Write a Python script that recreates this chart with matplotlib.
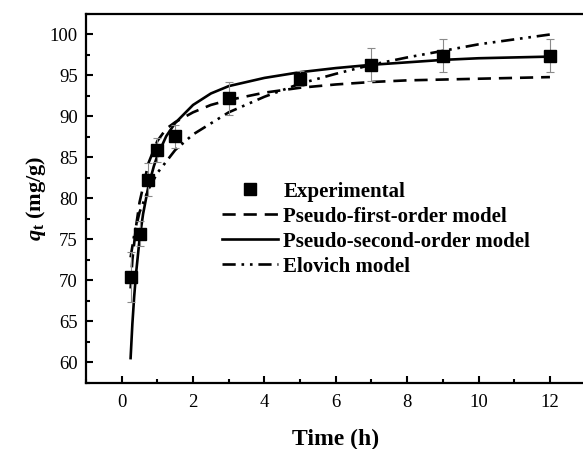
import matplotlib
matplotlib.use("Agg")
import matplotlib.pyplot as plt
from matplotlib.lines import Line2D
from matplotlib.ticker import MultipleLocator

plt.rcParams['font.family'] = ['Liberation Serif', 'DejaVu Serif']
plt.rcParams['mathtext.fontset'] = 'custom'
plt.rcParams['mathtext.rm'] = 'Liberation Serif'
plt.rcParams['mathtext.it'] = 'Liberation Serif:italic'
plt.rcParams['mathtext.bf'] = 'Liberation Serif:bold'
plt.rcParams['mathtext.bfit'] = 'Liberation Serif:italic:bold'

# Experimental data
t_exp = [0.25, 0.5, 0.75, 1.0, 1.5, 3, 5, 7, 9, 12]
q_exp = [70.4, 75.7, 82.3, 85.9, 87.6, 92.2, 94.6, 96.3, 97.4, 97.4]
q_err = [3.0, 1.5, 2.0, 1.5, 1.4, 2.0, 0.9, 2.0, 2.0, 2.0]

# Pseudo-first-order model (dashed)
t_pfo = [0.25, 0.3, 0.4, 0.5, 0.75, 1.0, 1.25, 1.5, 2, 2.5, 3, 4, 5, 6, 7, 8, 9, 10, 11, 12]
q_pfo = [69.0, 72.5, 76.5, 79.5, 84.3, 87.0, 88.5, 89.3, 90.5, 91.4, 92.0, 92.9, 93.5, 93.9,
         94.2, 94.4, 94.5, 94.6, 94.7, 94.8]

# Pseudo-second-order model (solid)
t_pso = [0.25, 0.3, 0.35, 0.4, 0.5, 0.6, 0.75, 0.9, 1.0, 1.25, 1.5, 2, 2.5, 3, 4, 5, 6, 7, 8, 9, 10, 11, 12]
q_pso = [60.5, 64.7, 68.0, 70.7, 75.0, 78.1, 81.5, 83.9, 85.2, 87.6, 89.2, 91.4, 92.8, 93.7,
         94.7, 95.4, 95.9, 96.3, 96.6, 96.9, 97.1, 97.2, 97.3]

# Elovich model (dash-dot-dot)
t_elo = [0.25, 0.35, 0.5, 0.75, 1.0, 1.5, 2, 3, 4, 5, 6, 7, 8, 9, 10, 11, 12]
q_elo = [72.8, 75.5, 78.3, 81.1, 83.1, 85.9, 87.8, 90.5, 92.4, 94.0, 95.2, 96.3, 97.2, 98.0,
         98.8, 99.4, 100.0]

labels = ["Experimental", "Pseudo-first-order model", "Pseudo-second-order model", "Elovich model"]
x_ticks = [0, 2, 4, 6, 8, 10, 12]
y_ticks = [60, 65, 70, 75, 80, 85, 90, 95, 100]

fig = plt.figure(figsize=(5.83, 4.49), dpi=100)
ax = fig.add_axes([0.1475, 0.1477, 0.857, 0.8211])

lw = 1.9
dash_pfo = (0, (5, 3))
dash_elo = (0, (5, 2.2, 1, 2.2, 1, 2.2))

ax.plot(t_pfo, q_pfo, color='black', lw=lw, linestyle=dash_pfo)
ax.plot(t_pso, q_pso, color='black', lw=lw, linestyle='-')
ax.plot(t_elo, q_elo, color='black', lw=lw, linestyle=dash_elo)
ax.errorbar(t_exp, q_exp, yerr=q_err, fmt='none', ecolor='#8a8a8a', elinewidth=0.8,
            capsize=3, capthick=0.8, zorder=3)
ax.plot(t_exp, q_exp, linestyle='none', marker='s', markersize=8.5, color='black', zorder=4)

ax.set_xlim(-1, 13)
ax.set_ylim(57.5, 102.5)
ax.set_xticks(x_ticks)
ax.set_yticks(y_ticks)
ax.xaxis.set_minor_locator(MultipleLocator(1))
ax.yaxis.set_minor_locator(MultipleLocator(2.5))
ax.tick_params(which='both', direction='in', width=1.5, labelsize=13.5)
ax.tick_params(which='major', length=5)
ax.tick_params(which='minor', length=3)
ax.tick_params(axis='x', pad=8)
ax.tick_params(axis='y', pad=6)
for s in ax.spines.values():
    s.set_linewidth(1.6)

ax.set_xlabel('Time (h)', fontsize=17, fontweight='bold', labelpad=13)
ax.set_ylabel(r'$\boldsymbol{q}_{\mathbf{t}}$ (mg/g)', fontsize=16, fontweight='bold', labelpad=1)

handles = [
    Line2D([], [], linestyle='none', marker='s', markersize=8.5, color='black'),
    Line2D([], [], color='black', lw=lw, linestyle=dash_pfo),
    Line2D([], [], color='black', lw=lw, linestyle='-'),
    Line2D([], [], color='black', lw=lw, linestyle=dash_elo),
]
ax.legend(handles, labels, loc='upper left', bbox_to_anchor=(0.272, 0.545), frameon=False,
          prop={'family': 'Liberation Serif', 'weight': 'bold', 'size': 15},
          handlelength=2.7, handletextpad=0.25, labelspacing=0.24, borderpad=0, borderaxespad=0)

fig.savefig('out.png', dpi=100)
